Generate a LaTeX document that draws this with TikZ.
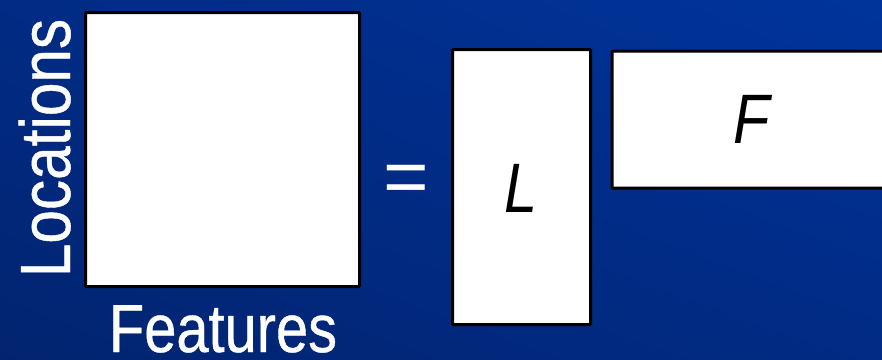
\documentclass[tikz,border=0pt]{standalone}
\usepackage{fontspec}
\usetikzlibrary{shadings}
\setmainfont[FakeStretch=0.85]{Liberation Sans}
\newfontfamily\lblfont[FakeStretch=0.85,FakeBold=0.6]{Liberation Sans}
\newfontfamily\eqfont{Liberation Sans}
\definecolor{bgdark}{RGB}{2,36,112}
\definecolor{bgmid}{RGB}{1,43,132}
\definecolor{bglight}{RGB}{0,52,156}
\tikzset{
  matbox/.style={draw=black, fill=white, line width=3pt, rounded corners=1pt, inner sep=0pt},
  lbl/.style={text=white, font=\lblfont\fontsize{68}{80}\selectfont, inner sep=0pt, anchor=base},
  sym/.style={text=black, font=\fontsize{70}{80}\selectfont\itshape, inner sep=0pt, anchor=base}
}
\begin{document}
\begin{tikzpicture}[x=1pt,y=-1pt]
\useasboundingbox (0,0) rectangle (882,359);
\clip (0,0) rectangle (882,359);
\shade[lower left=bgdark, upper right=bglight, lower right=bgmid, upper left=bgmid] (0,0) rectangle (882,359);
\node[matbox, minimum width=274pt, minimum height=274pt] (sq) at (222.5,149.5) {};
\node[matbox, minimum width=138pt, minimum height=275pt] (lm) at (521.5,187) {};
\node[matbox, minimum width=300pt, minimum height=137pt, anchor=north west] (fm) at (610.5,49.5) {};
\node[lbl, rotate=90, font=\lblfont\fontsize{71}{80}\selectfont] (loc) at (70,148) {Locations};
\node[lbl] (feat) at (223,352) {Features};
\node[text=white, font=\eqfont\fontsize{78}{80}\selectfont, inner sep=0pt] (eq) at (406.5,184) {=};
\node[sym] (lt) at (521,212) {L};
\node[sym] (ft) at (752,143) {F};
\end{tikzpicture}
\end{document}
